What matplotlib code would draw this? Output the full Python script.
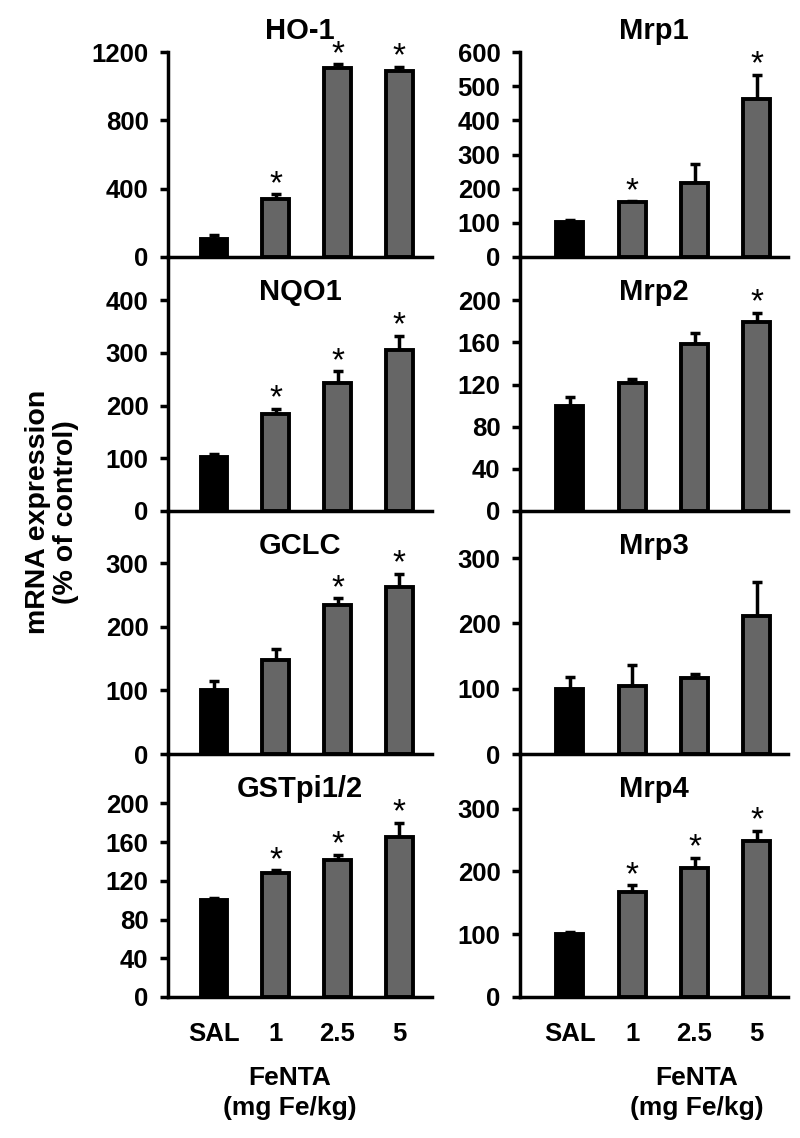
import numpy as np
import matplotlib
matplotlib.use('Agg')
import matplotlib.pyplot as plt

plt.rcParams['font.family'] = ['Liberation Sans', 'DejaVu Sans']
plt.rcParams['font.weight'] = 'bold'

groups = ['SAL', '1', '2.5', '5']

# left column
ho1_mean = [105, 340, 1105, 1090]
ho1_err = [25, 28, 24, 25]
ho1_sig = [0, 1, 1, 1]

nqo1_mean = [102, 185, 242, 305]
nqo1_err = [6, 9, 23, 28]
nqo1_sig = [0, 1, 1, 1]

gclc_mean = [100, 147, 234, 263]
gclc_err = [15, 18, 11, 20]
gclc_sig = [0, 0, 1, 1]

gstpi_mean = [100, 128, 141, 165]
gstpi_err = [2, 3, 6, 15]
gstpi_sig = [0, 1, 1, 1]

# right column
mrp1_mean = [101, 160, 217, 461]
mrp1_err = [8, 3, 55, 72]
mrp1_sig = [0, 1, 0, 1]

mrp2_mean = [100, 121, 158, 179]
mrp2_err = [8, 4, 11, 9]
mrp2_sig = [0, 0, 0, 1]

mrp3_mean = [99, 104, 116, 212]
mrp3_err = [19, 32, 7, 52]
mrp3_sig = [0, 0, 0, 0]

mrp4_mean = [101, 168, 206, 248]
mrp4_err = [2, 10, 16, 17]
mrp4_sig = [0, 1, 1, 1]

W, H = 800, 1138
fig = plt.figure(figsize=(W / 100, H / 100), dpi=100)

rows = [(52, 257), (257, 511), (511, 754), (754, 997)]
cols = [(168, 432, -0.745, 3.53), (520, 788, -0.8, 3.5)]

panels = [
    # col, row, title, mean, err, sig, ylim top, ticks
    (0, 0, 'HO-1', ho1_mean, ho1_err, ho1_sig, 1200, [0, 400, 800, 1200]),
    (0, 1, 'NQO1', nqo1_mean, nqo1_err, nqo1_sig, 482, [0, 100, 200, 300, 400]),
    (0, 2, 'GCLC', gclc_mean, gclc_err, gclc_sig, 382, [0, 100, 200, 300]),
    (0, 3, 'GSTpi1/2', gstpi_mean, gstpi_err, gstpi_sig, 251, [0, 40, 80, 120, 160, 200]),
    (1, 0, 'Mrp1', mrp1_mean, mrp1_err, mrp1_sig, 600, [0, 100, 200, 300, 400, 500, 600]),
    (1, 1, 'Mrp2', mrp2_mean, mrp2_err, mrp2_sig, 241, [0, 40, 80, 120, 160, 200]),
    (1, 2, 'Mrp3', mrp3_mean, mrp3_err, mrp3_sig, 372, [0, 100, 200, 300]),
    (1, 3, 'Mrp4', mrp4_mean, mrp4_err, mrp4_sig, 387, [0, 100, 200, 300]),
]

x = np.arange(len(groups))
colors = ['black', '#666666', '#666666', '#666666']

for c, r, title, mean, err, sig, ytop, ticks in panels:
    x0, x1, xl, xr = cols[c]
    top, bot = rows[r]
    ax = fig.add_axes([x0 / W, 1 - bot / H, (x1 - x0) / W, (bot - top) / H])
    ax.set_facecolor('none')
    ax.bar(x, mean, width=0.43, color=colors, edgecolor='black', linewidth=2.8, zorder=3)
    ax.errorbar(x, mean, yerr=[np.zeros(len(err)), err], fmt='none', ecolor='black',
                elinewidth=2.5, capsize=3.5, capthick=2.5, zorder=2)
    for i in range(len(x)):
        if sig[i]:
            ax.annotate('*', (x[i], mean[i] + err[i]), xytext=(0, 7), textcoords='offset points',
                        ha='center', va='center', fontsize=24, fontweight='normal',
                        annotation_clip=False)
    ax.set_xlim(xl, xr)
    ax.set_ylim(0, ytop)
    ax.set_yticks(ticks)
    ax.spines['top'].set_visible(False)
    ax.spines['right'].set_visible(False)
    ax.spines['left'].set_linewidth(2.5)
    ax.spines['bottom'].set_linewidth(2.5)
    ax.tick_params(axis='y', length=6, width=2.5, labelsize=18.5, pad=8)
    ax.tick_params(axis='x', length=0, labelsize=18.5, pad=18)
    ax.set_xticks(x)
    if r == 3:
        ax.set_xticklabels(groups)
    else:
        ax.set_xticklabels([])
    if r == 0:
        ax.annotate(title, (0.5, 1), xycoords='axes fraction', xytext=(0, 15),
                    textcoords='offset points', ha='center', va='center', fontsize=21,
                    annotation_clip=False)
    else:
        ax.annotate(title, (0.5, 1), xycoords='axes fraction', xytext=(0, -25),
                    textcoords='offset points', ha='center', va='center', fontsize=21)

fig.text(52 / W, 1 - 512 / H, 'mRNA expression\n(% of control)', rotation=90,
         ha='center', va='center', fontsize=20.5, linespacing=1.1)

for cx in [290, 697]:
    fig.text(cx / W, 1 - 1078 / H, 'FeNTA', ha='center', va='center', fontsize=19)
    fig.text(cx / W, 1 - 1108 / H, '(mg Fe/kg)', ha='center', va='center', fontsize=19)

plt.savefig('out.png', dpi=100)
plt.close()
